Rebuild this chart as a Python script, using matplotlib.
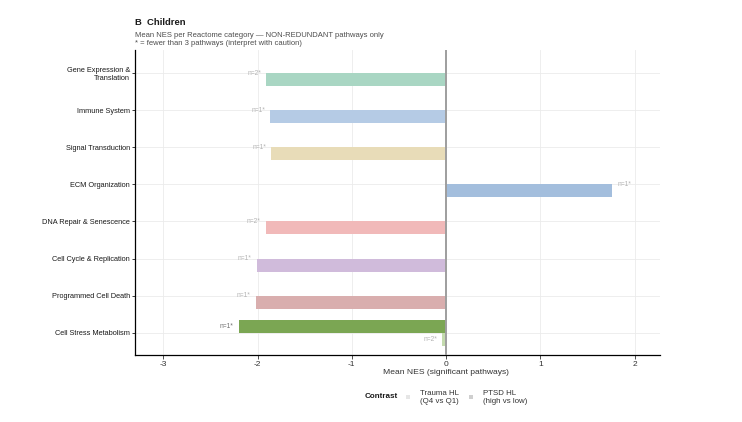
import numpy as np
import matplotlib
matplotlib.use("Agg")
import matplotlib.pyplot as plt
from matplotlib.patches import Patch

plt.rcParams['font.family'] = ['Liberation Sans', 'DejaVu Sans']

# Reactome categories, top to bottom
categories = [
    "Gene Expression &\nTranslation",
    "Immune System",
    "Signal Transduction",
    "ECM Organization",
    "DNA Repair & Senescence",
    "Cell Cycle & Replication",
    "Programmed Cell Death",
    "Cell Stress Metabolism",
]
# mean NES, Trauma HL (Q4 vs Q1)
trauma_nes = [-1.91, -1.87, -1.855, 1.765, -1.915, -2.01, -2.02, -0.045]
trauma_n = [2, 1, 1, 1, 2, 1, 1, 2]
# mean NES, PTSD HL (high vs low); None = no significant pathways
ptsd_nes = [None, None, None, None, None, None, None, -2.20]
ptsd_n = [None, None, None, None, None, None, None, 1]

trauma_colors = ["#A9D6C3", "#B5CBE5", "#E8DCB8", "#A3BEDD",
                 "#F1B9B9", "#D0BBDB", "#D9AEAE", "#C4DBAE"]
ptsd_colors = ["#53B08E", "#6C98CC", "#D4BA70", "#4F7FBF",
               "#E47474", "#A079B8", "#B45F5F", "#7BA653"]

fig = plt.figure(figsize=(7.42, 4.22), dpi=100)
ax = fig.add_axes([135 / 742, 1 - 355 / 422, 525 / 742, 305 / 422])

ypos = np.arange(len(categories))
half = 0.175
bh = 0.35

ax.set_axisbelow(True)
ax.grid(True, color="#EBEBEB", lw=0.6)

for i, cat in enumerate(categories):
    both = ptsd_nes[i] is not None
    # Trauma HL bar (lower slot)
    v = trauma_nes[i]
    ax.barh(i + half, v, height=bh, color=trauma_colors[i], edgecolor="none", zorder=2)
    ly = i + half if both else i
    sign = 1 if v > 0 else -1
    ax.annotate(f"n={trauma_n[i]}*", (v, ly), xytext=(3.5 * sign, 0),
                textcoords="offset points", ha="left" if v > 0 else "right",
                va="center", fontsize=4.8, color="#B3B3B3")
    if both:
        v = ptsd_nes[i]
        ax.barh(i - half, v, height=bh, color=ptsd_colors[i], edgecolor="none", zorder=2)
        sign = 1 if v > 0 else -1
        ax.annotate(f"n={ptsd_n[i]}*", (v, i - half), xytext=(3.5 * sign, 0),
                    textcoords="offset points", ha="left" if v > 0 else "right",
                    va="center", fontsize=4.8, color="#707070")

ax.axvline(0, color="#9E9E9E", lw=1.4, zorder=3)

ax.set_xlim(-3.3, 2.27)
ax.set_ylim(len(categories) - 0.4, -0.62)
ax.set_xticks([-3, -2, -1, 0, 1, 2])
ax.set_xticklabels(["-3", "-2", "-1", "0", "1", "2"])
ax.set_yticks(ypos)
ax.set_yticklabels(categories, fontsize=5.3, color="#1A1A1A")
ax.tick_params(axis="x", labelsize=6.0, colors="#333333", length=3, width=0.6, pad=1.5)
ax.tick_params(axis="y", length=2.5, width=0.6, pad=1.2, colors="#1A1A1A")
for lab in ax.get_yticklabels():
    lab.set_horizontalalignment("right")
    lab.set_multialignment("right")
    lab.set_linespacing(1.15)
for s in ["top", "right"]:
    ax.spines[s].set_visible(False)
for s in ["left", "bottom"]:
    ax.spines[s].set_color("black")
    ax.spines[s].set_linewidth(0.9)

# x-axis title sits centred under the whole plot, not the panel
fig.text(446 / 742, 1 - 373 / 422, "Mean NES (significant pathways)", fontsize=6.1,
         color="#333333", ha="center", va="center")

fig.text(135 / 742, 1 - 22.5 / 422, "B  Children", fontsize=6.8, fontweight="bold",
         va="center", ha="left", color="#1A1A1A")
fig.text(135 / 742, 1 - 39.5 / 422,
         "Mean NES per Reactome category \u2014 NON-REDUNDANT pathways only\n"
         "* = fewer than 3 pathways (interpret with caution)",
         fontsize=5.5, va="center", ha="left", color="#4D4D4D", linespacing=1.2)

# legend
fig.text(365 / 742, 1 - 397 / 422, "Contrast", fontsize=5.8, fontweight="bold",
         va="center", ha="left", color="#1A1A1A")
handles = [Patch(facecolor="#E6E6E6", edgecolor="none"),
           Patch(facecolor="#CFCFCF", edgecolor="none")]
leg = fig.legend(handles, ["Trauma HL\n(Q4 vs Q1)", "PTSD HL\n(high vs low)"],
                 loc="center left", bbox_to_anchor=(406 / 742, 1 - 397.5 / 422),
                 ncol=2, frameon=False, fontsize=5.7, handlelength=0.45, handleheight=0.45,
                 handletextpad=1.3, columnspacing=1.3, labelspacing=0.2, borderaxespad=0,
                 borderpad=0, labelcolor="#333333")
for t in leg.get_texts():
    t.set_linespacing(1.25)

fig.savefig("out.png", dpi=100)
